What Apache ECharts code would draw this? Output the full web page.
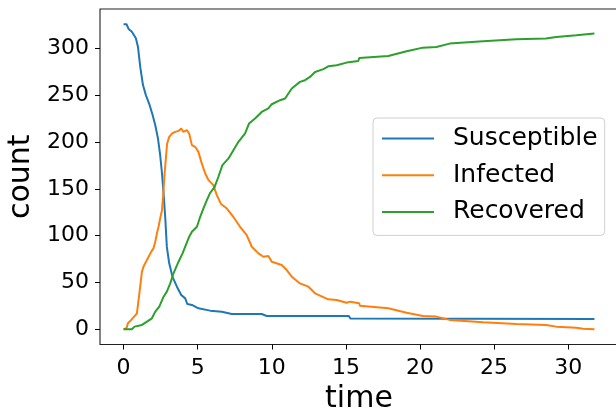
<!DOCTYPE html>
<html>
<head>
<meta charset="utf-8">
<script src="https://cdn.jsdelivr.net/npm/echarts@6/dist/echarts.min.js"></script>
<style>html,body{margin:0;padding:0;background:#fff;}#c{width:616px;height:410px;}</style>
</head>
<body>
<div id="c"></div>
<script>
var xTicks = [0, 5, 10, 15, 20, 25, 30];
var yTicks = [0, 50, 100, 150, 200, 250, 300];
var seriesNames = ['Susceptible', 'Infected', 'Recovered'];

var sTime = [0, 0.2, 0.34, 0.56, 0.83, 0.97, 1.13, 1.31, 1.51, 1.73, 1.96, 2.14, 2.32, 2.47, 2.59, 2.70, 2.81, 2.92, 3.08, 3.30, 3.60, 3.89, 4.16, 4.30, 4.61, 5.05, 5.84, 6.63, 7.30, 9.32, 9.66, 15.2, 15.3, 31.77];
var sCount = [326, 326, 321, 318, 311, 302, 280, 261, 250, 241, 229, 218, 204, 186, 167, 145, 120, 88, 70.5, 56, 45.5, 36.6, 33, 27, 26, 22.4, 19.9, 18.8, 16.3, 16.3, 14.2, 14.2, 11.5, 11];

var iTime = [0, 0.2, 0.29, 0.52, 0.74, 0.9, 1.01, 1.13, 1.24, 1.35, 1.51, 1.69, 1.87, 2.02, 2.14, 2.25, 2.36, 2.47, 2.59, 2.68, 2.77, 2.86, 2.94, 3.08, 3.26, 3.48, 3.71, 3.89, 4.04, 4.27, 4.43, 4.61, 4.83, 5.05, 5.28, 5.51, 5.73, 6.06, 6.29, 6.58, 6.97, 7.41, 7.86, 8.31, 8.65, 9.10, 9.43, 9.77, 10.0, 10.67, 11.01, 11.35, 11.9, 12.47, 12.92, 13.81, 14.38, 15.05, 15.28, 15.9, 15.95, 17.86, 19.1, 20.2, 21.1, 22.0, 24.26, 26.5, 28.5, 29.2, 30.55, 31.0, 31.77];
var iCount = [0, 1, 6.4, 10, 14, 17, 31, 47, 61.5, 67, 72, 77.5, 83, 86.5, 93.5, 102.5, 109.5, 118.5, 127, 145, 166.5, 184, 198.6, 205.6, 209, 211, 212, 214.6, 211, 212.8, 209, 196.8, 195, 189.6, 177, 166.5, 159.4, 154, 143.4, 133.8, 129, 120, 109.5, 100.7, 88.2, 81.1, 77.5, 78.3, 72.2, 68.7, 63.3, 56.2, 49, 45.5, 38.4, 32, 31.3, 28.4, 29.5, 27.8, 25.2, 22.4, 17.7, 14.2, 13.5, 10, 7.5, 5.7, 4.6, 2.8, 1.7, 0.5, 0];

var rTime = [0, 0.56, 0.74, 1.24, 1.58, 1.91, 2.14, 2.41, 2.70, 2.92, 3.15, 3.37, 3.71, 3.98, 4.20, 4.43, 4.61, 4.95, 5.17, 5.39, 5.62, 5.84, 6.13, 6.40, 6.67, 7.08, 7.41, 7.75, 8.20, 8.47, 8.87, 9.32, 9.77, 10.0, 10.56, 10.9, 11.35, 11.9, 12.24, 12.58, 12.92, 13.48, 13.81, 14.38, 15.05, 15.84, 15.9, 17.86, 19.1, 20.2, 21.1, 22.0, 24.26, 26.5, 28.5, 29.2, 30.55, 31.77];
var rCount = [0, 0, 2.8, 4.6, 8.2, 11.7, 18.8, 24.2, 34.8, 40.2, 49, 59.8, 72.2, 81.1, 90, 98.9, 104.2, 109.5, 120.2, 129.2, 138, 145.8, 151.6, 163, 175.4, 182.6, 191.4, 200.3, 209.3, 220, 225.3, 232.3, 236, 240.5, 244.8, 246.6, 257.3, 264.4, 266.2, 269.7, 275, 278, 281, 282.2, 285, 286.8, 290, 292.1, 297.1, 301, 301.7, 305.3, 307.8, 310, 310.7, 312.4, 314.2, 316];

function pairs(t, v) { return t.map(function (x, i) { return [x, v[i]]; }); }

var FONT = 'DejaVu Sans';
var chart = echarts.init(document.getElementById('c'), null, { renderer: 'canvas' });
chart.setOption({
  animation: false,
  backgroundColor: '#ffffff',
  color: ['#1f77b4', '#ff7f0e', '#2ca02c'],
  textStyle: { fontFamily: FONT },
  grid: { left: 100, top: 9, right: -2, bottom: 65.5, show: true, borderColor: '#222', borderWidth: 1.1, backgroundColor: 'transparent', containLabel: false, outerBoundsMode: 'none' },
  legend: {
    orient: 'vertical', left: 373, top: 118,
    padding: [8, 7, 11, 9],
    backgroundColor: 'rgba(255,255,255,0.8)', borderColor: '#d0d0d0', borderWidth: 1, borderRadius: 4,
    icon: 'rect', itemWidth: 52, itemHeight: 2, itemGap: 11.7,
    textStyle: { fontFamily: FONT, fontSize: 25, color: '#000', padding: [0, 0, 0, 14] },
    data: seriesNames
  },
  xAxis: {
    type: 'value', min: -1.59, max: 33.36,
    name: 'time', nameLocation: 'middle', nameGap: 36.5,
    nameTextStyle: { fontFamily: FONT, fontSize: 30, color: '#000' },
    axisLine: { show: false, onZero: false },
    splitLine: { show: false },
    axisTick: { show: true, length: 5, lineStyle: { color: '#000', width: 1 }, customValues: xTicks },
    axisLabel: { fontFamily: FONT, fontSize: 22, color: '#000', margin: 13, customValues: xTicks }
  },
  yAxis: {
    type: 'value', min: -16.3, max: 342.3,
    name: 'count', nameLocation: 'middle', nameGap: 62, nameRotate: 90,
    nameTextStyle: { fontFamily: FONT, fontSize: 30, color: '#000' },
    axisLine: { show: false, onZero: false },
    splitLine: { show: false },
    axisTick: { show: true, length: 5, lineStyle: { color: '#000', width: 1 }, customValues: yTicks },
    axisLabel: { fontFamily: FONT, fontSize: 22, color: '#000', margin: 11, customValues: yTicks }
  },
  series: [
    { name: seriesNames[0], type: 'line', data: pairs(sTime, sCount), showSymbol: false, symbol: 'none', lineStyle: { width: 2 } },
    { name: seriesNames[1], type: 'line', data: pairs(iTime, iCount), showSymbol: false, symbol: 'none', lineStyle: { width: 2 } },
    { name: seriesNames[2], type: 'line', data: pairs(rTime, rCount), showSymbol: false, symbol: 'none', lineStyle: { width: 2 } }
  ]
});
</script>
</body>
</html>
